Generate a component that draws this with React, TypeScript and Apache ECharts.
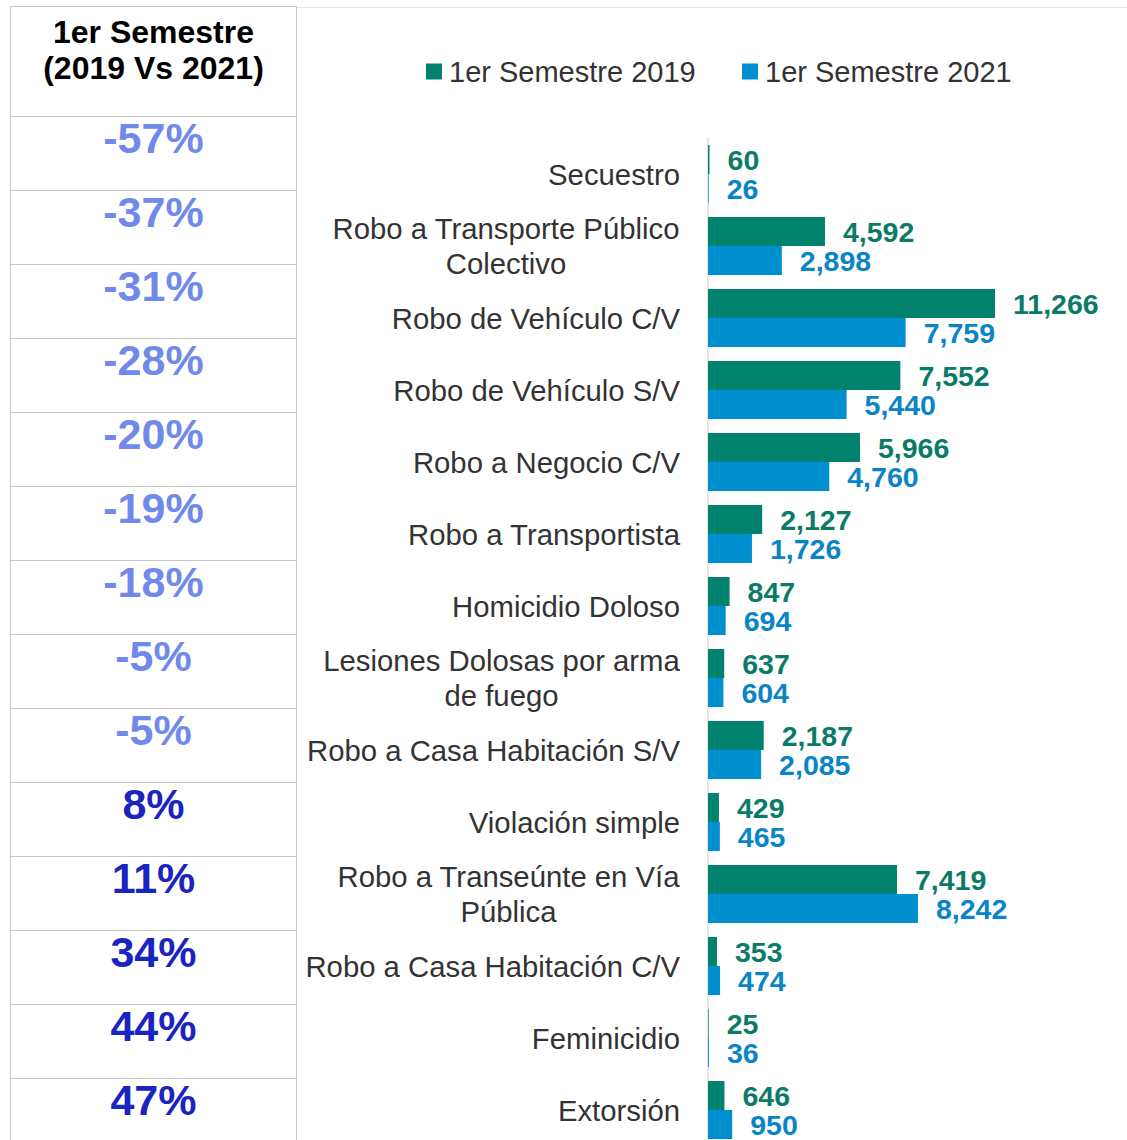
import React, { useEffect, useRef } from "react";
import * as echarts from "echarts";

const categories: string[] = [
  "Secuestro",
  "Robo a Transporte Público\nColectivo",
  "Robo de Vehículo C/V",
  "Robo de Vehículo S/V",
  "Robo a Negocio C/V",
  "Robo a Transportista",
  "Homicidio Doloso",
  "Lesiones Dolosas por arma\nde fuego",
  "Robo a Casa Habitación S/V",
  "Violación simple",
  "Robo a Transeúnte en Vía\nPública",
  "Robo a Casa Habitación C/V",
  "Feminicidio",
  "Extorsión",
];
const values2019: number[] = [60, 4592, 11266, 7552, 5966, 2127, 847, 637, 2187, 429, 7419, 353, 25, 646];
const values2021: number[] = [26, 2898, 7759, 5440, 4760, 1726, 694, 604, 2085, 465, 8242, 474, 36, 950];
const pctLabels: string[] = ["-57%", "-37%", "-31%", "-28%", "-20%", "-19%", "-18%", "-5%", "-5%", "8%", "11%", "34%", "44%", "47%"];
const pctValues: number[] = [-57, -37, -31, -28, -20, -19, -18, -5, -5, 8, 11, 34, 44, 47];
const seriesNames: string[] = ["1er Semestre 2019", "1er Semestre 2021"];
const headerLines: string[] = ["1er Semestre", "(2019 Vs 2021)"];

const FONT = "'Liberation Sans', Arial, Helvetica, sans-serif";
const GREEN = "#00826f";
const BLUE = "#0090d0";
const GREEN_LABEL = "#0b7b67";
const BLUE_LABEL = "#0a84c8";
const CAT_SIZE = 29.3;
const VAL_SIZE = 28.5;

export default function App() {
  const ref = useRef<HTMLDivElement>(null);

  useEffect(() => {
    if (!ref.current) return;
    const chart = echarts.init(ref.current, undefined, { renderer: "svg" });

    const canvas = document.createElement("canvas");
    const ctx = canvas.getContext("2d")!;
    ctx.font = `${CAT_SIZE}px ${FONT}`;
    const rich: Record<string, any> = {
      s: { fontSize: CAT_SIZE, fontFamily: FONT, color: "#333", lineHeight: 35 },
    };
    const keys: string[] = categories.map((c, i) => {
      const lines = c.split("\n");
      if (lines.length === 1) return "";
      const w = Math.max(...lines.map((l) => ctx.measureText(l).width));
      const k = "m" + i;
      rich[k] = { fontSize: CAT_SIZE, fontFamily: FONT, color: "#333", lineHeight: 35, width: Math.ceil(w), align: "center" };
      return k;
    });

    const fmt = (v: number) => v.toLocaleString("en-US");
    const legendText = { fontSize: 29, fontFamily: FONT, color: "#333", padding: [0, 0, 0, 2] };

    chart.setOption({
      animation: false,
      legend: [
        {
          data: [seriesNames[0]],
          left: 421,
          top: 52,
          icon: "rect",
          itemWidth: 16,
          itemHeight: 16,
          textStyle: legendText,
        },
        {
          data: [seriesNames[1]],
          left: 737,
          top: 52,
          icon: "rect",
          itemWidth: 16,
          itemHeight: 16,
          textStyle: legendText,
        },
      ],
      grid: {
        left: 708,
        top: 138,
        width: (16000 * 287) / 11266,
        height: 1008,
        outerBoundsMode: "none",
        containLabel: false,
      },
      xAxis: {
        type: "value",
        min: 0,
        max: 16000,
        show: false,
      },
      yAxis: {
        type: "category",
        data: categories,
        inverse: true,
        axisLine: { show: true, lineStyle: { color: "#dcdcdc", width: 1.5 } },
        axisTick: { show: false },
        axisLabel: {
          margin: 28,
          fontSize: CAT_SIZE,
          fontFamily: FONT,
          color: "#333",
          align: "right",
          formatter: (val: string, idx: number) => {
            const k = keys[idx];
            if (!k) return `{s|${val}}`;
            return val
              .split("\n")
              .map((l) => `{${k}|${l}}`)
              .join("\n");
          },
          rich,
        },
      },
      series: [
        {
          name: seriesNames[0],
          type: "bar",
          data: values2019,
          barWidth: 29,
          barGap: "0%",
          itemStyle: { color: GREEN },
          label: {
            show: true,
            position: "right",
            distance: 18,
            fontSize: VAL_SIZE,
            lineHeight: 27,
            fontWeight: "bold",
            fontFamily: FONT,
            color: GREEN_LABEL,
            formatter: (p: any) => fmt(p.value),
          },
        },
        {
          name: seriesNames[1],
          type: "bar",
          data: values2021,
          barWidth: 29,
          barGap: "0%",
          itemStyle: { color: BLUE },
          label: {
            show: true,
            position: "right",
            distance: 18,
            fontSize: VAL_SIZE,
            lineHeight: 27,
            fontWeight: "bold",
            fontFamily: FONT,
            color: BLUE_LABEL,
            formatter: (p: any) => fmt(p.value),
          },
        },
      ],
    });

    return () => chart.dispose();
  }, []);

  const rowTop = (i: number) => 116 + 74 * i;

  return (
    <div
      style={{
        position: "absolute",
        left: 0,
        top: 0,
        width: 1127,
        height: 1140,
        overflow: "hidden",
        background: "#fff",
        fontFamily: FONT,
      }}
    >
      <div ref={ref} style={{ position: "absolute", left: 0, top: 0, width: 1127, height: 1160 }} />
      {/* top border line */}
      <div style={{ position: "absolute", left: 296, top: 7, width: 831, height: 0, borderTop: "1px solid #e8e8e8" }} />
      {/* table */}
      <div
        style={{
          position: "absolute",
          left: 10,
          top: 6,
          width: 285,
          height: 1200,
          borderLeft: "1.5px solid #c8c8c8",
          borderRight: "1.5px solid #c8c8c8",
          borderTop: "1.5px solid #c8c8c8",
        }}
      />
      {headerLines.map((t, i) => (
        <div
          key={"h" + i}
          style={{
            position: "absolute",
            left: 10,
            width: 287,
            top: 14 + 36 * i,
            height: 36,
            lineHeight: "36px",
            textAlign: "center",
            fontSize: 32,
            fontWeight: "bold",
            color: "#000",
          }}
        >
          {t}
        </div>
      ))}
      {pctLabels.map((t, i) => (
        <React.Fragment key={"p" + i}>
          <div
            style={{
              position: "absolute",
              left: 11,
              width: 285,
              top: rowTop(i),
              height: 0,
              borderTop: "1.5px solid #c8c8c8",
            }}
          />
          <div
            style={{
              position: "absolute",
              left: 10,
              width: 287,
              top: rowTop(i),
              height: 44,
              lineHeight: "44px",
              textAlign: "center",
              fontSize: 43,
              fontWeight: "bold",
              color: pctValues[i] < 0 ? "#7089ea" : "#1a24c0",
            }}
          >
            {t}
          </div>
        </React.Fragment>
      ))}
    </div>
  );
}
